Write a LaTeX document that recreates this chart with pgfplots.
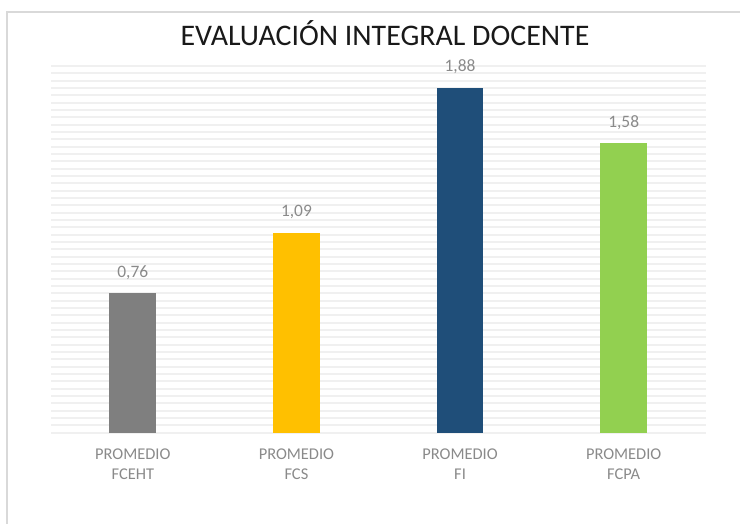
\documentclass[border=0pt]{standalone}
\usepackage{fontspec}
\setmainfont{Carlito}
\usepackage{pgfplots}
\pgfplotsset{compat=1.18}
\definecolor{cgray}{HTML}{7F7F7F}
\definecolor{cyel}{HTML}{FFC000}
\definecolor{cblue}{HTML}{1F4E79}
\definecolor{cgreen}{HTML}{92D050}
\definecolor{gridc}{HTML}{F0F0F0}
\definecolor{lblc}{HTML}{8A8A8A}
\definecolor{framec}{HTML}{D9D9D9}
\begin{document}
\begin{tikzpicture}
\path[use as bounding box] (0,0) rectangle (740bp,524bp);
\draw[framec, line width=2bp] (6.7bp,0) -- (6.7bp,512.3bp) -- (740bp,512.3bp);
\node[anchor=base, font=\fontsize{30}{36}\selectfont, text=black!90] at (385bp,478bp) {EVALUACIÓN INTEGRAL DOCENTE};
\begin{axis}[
  at={(51bp,91.3bp)}, anchor=south west,
  scale only axis, width=654.5bp, height=366.7bp,
  xmin=-0.5, xmax=3.5, ymin=0, ymax=2,
  ybar, bar width=46.7bp, clip=false,
  xtick={0,1,2,3},
  xticklabels={PROMEDIO\\FCEHT, PROMEDIO\\FCS, PROMEDIO\\FI, PROMEDIO\\FCPA},
  xticklabel style={align=center, font=\fontsize{16.5}{20}\selectfont, text=lblc, anchor=base, yshift=-46.6bp, inner sep=0pt},
  ytick={0,0.04,...,2.01},
  yticklabel=\empty,
  ymajorgrids, grid style={gridc, line width=1.8bp},
  major tick length=0pt,
  axis line style={draw=none},
  nodes near coords,
  nodes near coords style={font=\fontsize{17.5}{20}\selectfont, text=lblc, anchor=base, yshift=16bp, inner sep=0pt,
    /pgf/number format/.cd, fixed, fixed zerofill, precision=2, use comma, assume math mode=true},
]
\addplot[fill=cgray, draw=none, bar shift=0pt] coordinates {(0,0.76)};
\addplot[fill=cyel, draw=none, bar shift=0pt] coordinates {(1,1.09)};
\addplot[fill=cblue, draw=none, bar shift=0pt] coordinates {(2,1.88)};
\addplot[fill=cgreen, draw=none, bar shift=0pt] coordinates {(3,1.58)};
\end{axis}
\end{tikzpicture}
\end{document}
